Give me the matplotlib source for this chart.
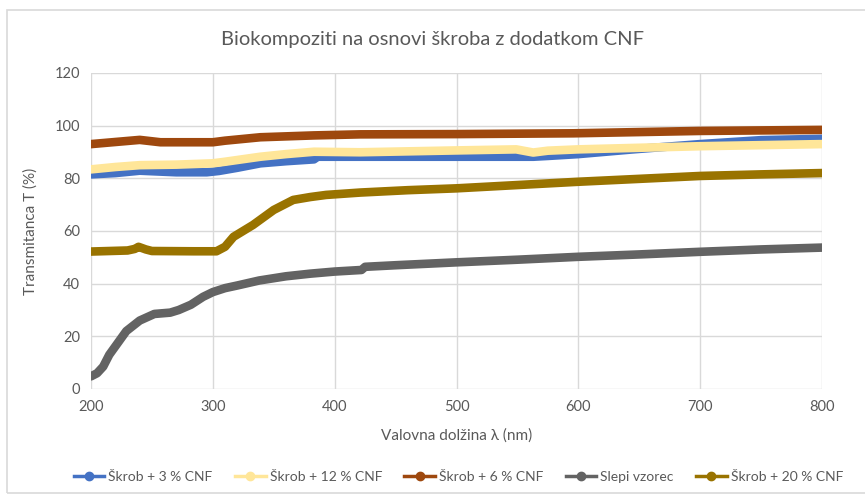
import matplotlib.pyplot as plt
from matplotlib.lines import Line2D
from matplotlib.patches import Rectangle

plt.rcParams['font.family'] = ['Lato', 'DejaVu Sans']

# read-off points (wavelength nm, transmittance %)
wl_3 = [200, 220, 240, 255, 270, 295, 305, 320, 339, 360, 383, 386, 420, 500, 563, 575, 600, 645, 700, 750, 800]
t_3 = [81.5, 82.0, 82.9, 82.6, 82.3, 82.3, 82.8, 84.0, 85.7, 86.5, 87.2, 88.2, 88.2, 88.2, 88.2, 88.5, 89.2, 91.0, 93.0, 94.5, 95.0]

wl_12 = [200, 220, 240, 270, 300, 310, 339, 360, 383, 421, 500, 549, 563, 575, 600, 700, 800]
t_12 = [83.4, 84.3, 85.0, 85.2, 85.7, 86.3, 88.2, 89.2, 90.1, 89.9, 90.6, 91.0, 89.8, 90.5, 91.0, 92.2, 93.0]

wl_6 = [200, 220, 240, 257, 300, 310, 339, 383, 421, 500, 596, 700, 800]
t_6 = [93.0, 93.8, 94.6, 93.7, 93.7, 94.3, 95.6, 96.3, 96.7, 96.8, 97.1, 98.0, 98.4]

wl_0 = [200, 205, 210, 215, 222, 229, 240, 252, 265, 272, 282, 292, 300, 310, 320, 338, 360, 380, 400, 422, 425, 450, 500, 550, 600, 650, 700, 750, 800]
t_0 = [4.8, 6.0, 8.5, 13.0, 17.5, 22.0, 26.0, 28.5, 29.0, 30.0, 32.0, 35.0, 36.8, 38.3, 39.3, 41.2, 42.8, 43.8, 44.6, 45.2, 46.4, 47.0, 48.1, 49.1, 50.2, 51.1, 52.1, 53.0, 53.7]

wl_20 = [200, 230, 236, 239, 245, 250, 284, 303, 310, 317, 333, 350, 366, 380, 393, 421, 460, 500, 560, 600, 650, 700, 750, 800]
t_20 = [52.2, 52.6, 53.2, 54.0, 53.0, 52.4, 52.3, 52.3, 54.0, 57.8, 62.3, 68.0, 71.8, 72.9, 73.7, 74.6, 75.5, 76.2, 77.7, 78.7, 79.8, 80.9, 81.5, 82.0]

series = [
    ('Škrob + 3 % CNF', wl_3, t_3, '#4472C4'),
    ('Škrob + 12 % CNF', wl_12, t_12, '#FFE699'),
    ('Škrob + 6 % CNF', wl_6, t_6, '#9E480E'),
    ('Slepi vzorec', wl_0, t_0, '#636363'),
    ('Škrob + 20 % CNF', wl_20, t_20, '#997300'),
]

grey_txt = '#595959'

fig = plt.figure(figsize=(8.65, 4.95), dpi=100)
fig.patches.append(Rectangle((7 / 865, 0.005), 1.0, 1 - 10 / 495 - 0.005,
                             transform=fig.transFigure, fill=False,
                             edgecolor='#D9D9D9', lw=1.2))
ax = fig.add_axes([91 / 865, 1 - 389 / 495, (822 - 91) / 865, (389 - 73) / 495])

for name, x, y, c in series:
    ax.plot(x, y, color=c, lw=6.2, solid_capstyle='round', solid_joinstyle='round')

ax.set_xlim(200, 800)
ax.set_ylim(0, 120)
ax.set_xticks(range(200, 801, 100))
ax.set_yticks(range(0, 121, 20))
ax.grid(True, color='#D9D9D9', lw=1)
ax.set_axisbelow(True)
for s in ax.spines.values():
    s.set_visible(False)
ax.tick_params(length=0, labelsize=10.5, colors=grey_txt, pad=8)

ax.set_xlabel('Valovna dolžina λ (nm)', fontsize=11, color=grey_txt, labelpad=10)
ax.set_ylabel('Transmitanca T (%)', fontsize=11, color=grey_txt, labelpad=12)
fig.text(0.5, 1 - 40 / 495, 'Biokompoziti na osnovi škroba z dodatkom CNF',
         ha='center', va='center', fontsize=14.5, color=grey_txt)

handles = [Line2D([0], [0], color=c, lw=2.5, marker='o', markersize=6) for _, _, _, c in series]
fig.legend(handles, [s[0] for s in series], loc='center', bbox_to_anchor=(0.53, 1 - 477 / 495),
           ncol=5, frameon=False, fontsize=10, labelcolor=grey_txt, handlelength=2.2,
           handletextpad=0.3, columnspacing=1.6)

fig.savefig('out.png', dpi=100)
